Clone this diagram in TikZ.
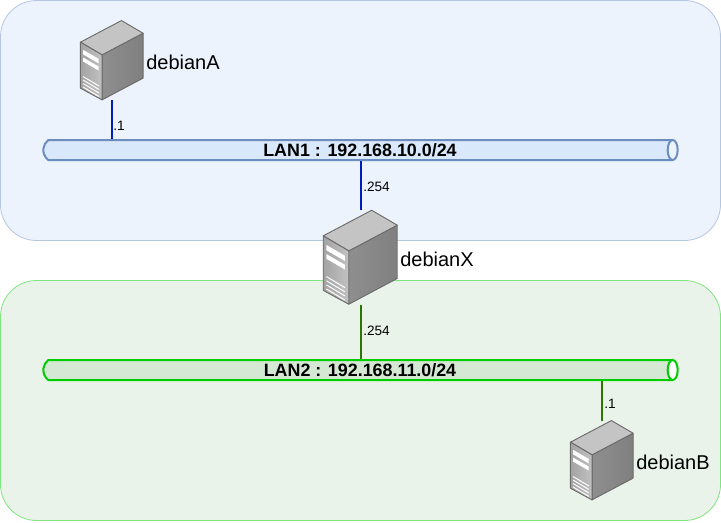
\documentclass[tikz,border=0pt]{standalone}
\usepackage{fontspec}
\setmainfont{Liberation Sans}
\usetikzlibrary{shapes.misc,positioning}
\definecolor{zoneblue}{HTML}{ECF3FD}
\definecolor{zonebluedraw}{HTML}{B5C6DF}
\definecolor{zonegreen}{HTML}{E9F3E9}
\definecolor{zonegreendraw}{HTML}{7FE57F}
\definecolor{lanbluefill}{HTML}{DAE8FC}
\definecolor{lanbluedraw}{HTML}{6C8EBF}
\definecolor{langreenfill}{HTML}{D5E8D4}
\definecolor{langreendraw}{HTML}{00CC00}
\definecolor{linkblue}{HTML}{001DBC}
\definecolor{linkgreen}{HTML}{2D7600}
\tikzset{
  zone/.style={rounded corners=27pt,line width=0.6pt},
  lan/.style={rounded rectangle,rounded rectangle arc length=106,minimum width=475pt,minimum height=15pt,
    inner sep=0pt,line width=1.5pt,font=\bfseries\fontsize{13.4}{14}\selectfont,text=black},
  lanend/.style={fill=white,line width=1.5pt},
  srv/.style={inner sep=0pt,minimum width=46.95pt,minimum height=59.5pt},
  srvname/.style={inner sep=0pt,font=\fontsize{15}{18}\selectfont,anchor=west},
  addr/.style={inner sep=0pt,font=\fontsize{10.2}{12}\selectfont,anchor=west},
  link/.style={line width=1.5pt},
  pics/server/.style={code={
    \draw [left color=black!44,right color=black!50,draw=black!58,line width=0.7pt,line join=round] (21.6,34.3) -- (62.6,12.6) -- (62.6,57.6) -- (21.6,79.3) -- cycle;
    \draw [fill=black!23,draw=black!58,line width=0.7pt,line join=round] (0,21.6) -- (41,0) -- (62.6,12.6) -- (21.6,34.3) -- cycle;
    \draw [left color=black!36,right color=black!24,draw=black!58,line width=0.7pt,line join=round] (0,21.6) -- (21.6,34.3) -- (21.6,79.3) -- (0,67.6) -- cycle;
    \fill [white] (2.7,29.3) -- (18.3,38.3) -- (18.3,42.8) -- (2.7,33.8) -- cycle;
    \fill [white] (2.7,37) -- (18.3,46) -- (18.3,50) -- (2.7,41) -- cycle;
    \foreach \y in {56,59.5,63,66.5}
      \draw [white,line width=0.75pt] (2.7,\y) -- (18.3,\y+9.3);
  }}
}
\begin{document}
\begin{tikzpicture}[x=0.75pt,y=-0.75pt]
\useasboundingbox (0,0) rectangle (721,522);

\draw [zone,fill=zoneblue,draw=zonebluedraw] (0.5,0.5) rectangle (720.5,240.5);
\draw [zone,fill=zonegreen,draw=zonegreendraw] (0.5,280.5) rectangle (720.5,520.5);

\node [lan,fill=lanbluefill,draw=lanbluedraw] (lan1) at (360,150) {LAN1 : 192.168.10.0/24};
\draw [lanend,draw=lanbluedraw,fill=zoneblue] ([xshift=-3.75pt]lan1.east) ellipse [x radius=3.75pt,y radius=7.5pt];
\node [lan,fill=langreenfill,draw=langreendraw] (lan2) at (360,370) {LAN2 : 192.168.11.0/24};
\draw [lanend,draw=langreendraw] ([xshift=-3.75pt]lan2.east) ellipse [x radius=3.75pt,y radius=7.5pt];

\node [srv] (debianA) at (112,60.5) {};
\node [srv,minimum width=55.5pt,minimum height=70.5pt] (debianX) at (360.5,257.5) {};
\node [srv] (debianB) at (602,460.5) {};

\draw [link,draw=linkblue] (debianA.south) -- (debianA.south |- lan1.north);
\draw [link,draw=linkblue] (debianX.north) -- (debianX.north |- lan1.south);
\draw [link,draw=linkgreen] (debianX.south) -- (debianX.south |- lan2.north);
\draw [link,draw=linkgreen] (debianB.north) -- (debianB.north |- lan2.south);

\pic at (debianA.north west) {server};
\pic [xscale=1.182,yscale=1.185] at (debianX.north west) {server};
\pic at (debianB.north west) {server};

\node [srvname] (nameA) at (146,62) {debianA};
\node [srvname] (nameX) at (400,259) {debianX};
\node [srvname] (nameB) at (636,462) {debianB};

\node [addr] (addrA) at (113,125.5) {.1};
\node [addr] (addrX1) at (363,186.5) {.254};
\node [addr] (addrX2) at (363,330.5) {.254};
\node [addr] (addrB) at (604,403.5) {.1};

\end{tikzpicture}
\end{document}
